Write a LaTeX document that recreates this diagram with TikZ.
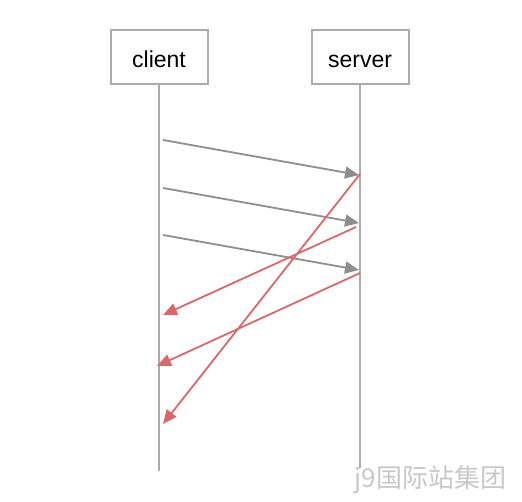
\documentclass[tikz,border=0pt]{standalone}
\usepackage{fontspec}
\setmainfont{Liberation Sans}
\newfontfamily\cjk{Noto Sans CJK SC}
\usetikzlibrary{arrows.meta}
\definecolor{boxgray}{HTML}{ABABAB}
\definecolor{msggray}{HTML}{8E8E8E}
\definecolor{msgred}{HTML}{D9686B}
\definecolor{wmgray}{HTML}{C8C8C8}
\begin{document}
\begin{tikzpicture}[x=1pt,y=-1pt,
  actor/.style={draw=boxgray,line width=2pt,minimum width=97pt,minimum height=54pt,inner sep=0pt},
  actorlbl/.style={anchor=base,inner sep=0pt,font=\fontsize{23}{27}\selectfont},
  life/.style={draw=boxgray,line width=1.6pt},
  req/.style={draw=msggray,line width=1.8pt,-{Triangle[length=14pt,width=12pt]}},
  resp/.style={draw=msgred,line width=1.8pt,-{Triangle[length=14pt,width=12pt]}}]
\useasboundingbox (0,0) rectangle (522,502);
\fill[white] (0,0) rectangle (522,502);
\node[actor] (client) at (159,57) {};
\node[actor] (server) at (360,57) {};
\node[actorlbl] (clientlbl) at (159,67.5) {client};
\node[actorlbl] (serverlbl) at (360,67.5) {server};
\coordinate (cend) at (159,471);
\coordinate (send) at (360,468);
\draw[life] (client.south) -- (cend);
\draw[life] (server.south) -- (send);
\coordinate (c1) at (163,140);
\coordinate (c2) at (163,188);
\coordinate (c3) at (163,235);
\coordinate (s1) at (359,175);
\coordinate (s2) at (359,223);
\coordinate (s3) at (359,270);
\coordinate (r1) at (360,174);
\coordinate (r2) at (356,227);
\coordinate (r3) at (360,273);
\coordinate (d1) at (163,424);
\coordinate (d2) at (163,315);
\coordinate (d3) at (157,366);
\draw[req] (c1) -- (s1);
\draw[req] (c2) -- (s2);
\draw[req] (c3) -- (s3);
\draw[resp] (r1) -- (d1);
\draw[resp] (r2) -- (d2);
\draw[resp] (r3) -- (d3);
\node[text=wmgray,font=\cjk\fontsize{26}{30}\selectfont,inner sep=0pt] (wm) at (430.5,480) {j9国际站集团};
\end{tikzpicture}
\end{document}
